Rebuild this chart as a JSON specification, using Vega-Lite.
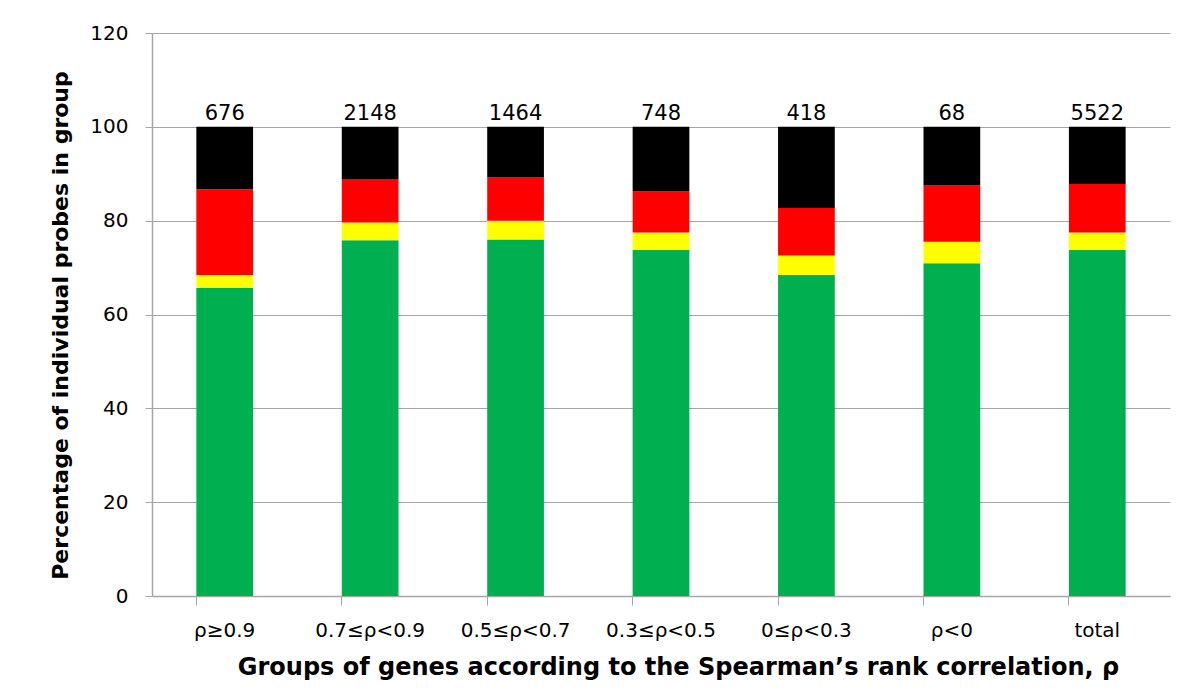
{
  "$schema": "https://vega.github.io/schema/vega-lite/v6.json",
  "width": 1018,
  "height": 563,
  "autosize": {"type": "none"},
  "padding": {"left": 152, "top": 33, "right": 29, "bottom": 100},
  "background": "white",
  "config": {
    "view": {"stroke": null},
    "font": "DejaVu Sans",
    "axis": {"labelFont": "DejaVu Sans", "titleFont": "DejaVu Sans"}
  },
  "datasets": {
    "segs": [
      {"group": "ρ≥0.9", "status": "green", "ord": 1, "value": 65.7},
      {"group": "ρ≥0.9", "status": "yellow", "ord": 2, "value": 2.7},
      {"group": "ρ≥0.9", "status": "red", "ord": 3, "value": 18.3},
      {"group": "ρ≥0.9", "status": "black", "ord": 4, "value": 13.3},
      {"group": "0.7≤ρ<0.9", "status": "green", "ord": 1, "value": 75.8},
      {"group": "0.7≤ρ<0.9", "status": "yellow", "ord": 2, "value": 3.8},
      {"group": "0.7≤ρ<0.9", "status": "red", "ord": 3, "value": 9.3},
      {"group": "0.7≤ρ<0.9", "status": "black", "ord": 4, "value": 11.1},
      {"group": "0.5≤ρ<0.7", "status": "green", "ord": 1, "value": 76.0},
      {"group": "0.5≤ρ<0.7", "status": "yellow", "ord": 2, "value": 4.0},
      {"group": "0.5≤ρ<0.7", "status": "red", "ord": 3, "value": 9.2},
      {"group": "0.5≤ρ<0.7", "status": "black", "ord": 4, "value": 10.8},
      {"group": "0.3≤ρ<0.5", "status": "green", "ord": 1, "value": 73.8},
      {"group": "0.3≤ρ<0.5", "status": "yellow", "ord": 2, "value": 3.7},
      {"group": "0.3≤ρ<0.5", "status": "red", "ord": 3, "value": 8.7},
      {"group": "0.3≤ρ<0.5", "status": "black", "ord": 4, "value": 13.8},
      {"group": "0≤ρ<0.3", "status": "green", "ord": 1, "value": 68.4},
      {"group": "0≤ρ<0.3", "status": "yellow", "ord": 2, "value": 4.2},
      {"group": "0≤ρ<0.3", "status": "red", "ord": 3, "value": 10.1},
      {"group": "0≤ρ<0.3", "status": "black", "ord": 4, "value": 17.3},
      {"group": "ρ<0", "status": "green", "ord": 1, "value": 70.9},
      {"group": "ρ<0", "status": "yellow", "ord": 2, "value": 4.6},
      {"group": "ρ<0", "status": "red", "ord": 3, "value": 12.0},
      {"group": "ρ<0", "status": "black", "ord": 4, "value": 12.5},
      {"group": "total", "status": "green", "ord": 1, "value": 73.8},
      {"group": "total", "status": "yellow", "ord": 2, "value": 3.7},
      {"group": "total", "status": "red", "ord": 3, "value": 10.3},
      {"group": "total", "status": "black", "ord": 4, "value": 12.2}
    ],
    "counts": [
      {"group": "ρ≥0.9", "n": "676", "top": 100},
      {"group": "0.7≤ρ<0.9", "n": "2148", "top": 100},
      {"group": "0.5≤ρ<0.7", "n": "1464", "top": 100},
      {"group": "0.3≤ρ<0.5", "n": "748", "top": 100},
      {"group": "0≤ρ<0.3", "n": "418", "top": 100},
      {"group": "ρ<0", "n": "68", "top": 100},
      {"group": "total", "n": "5522", "top": 100}
    ]
  },
  "encoding": {
    "x": {
      "field": "group",
      "type": "nominal",
      "sort": null,
      "scale": {"paddingInner": 0.61, "paddingOuter": 0.305},
      "axis": {
        "title": "Groups of genes according  to the Spearman’s rank correlation, ρ",
        "titleFontSize": 24,
        "titleFontWeight": "bold",
        "titleColor": "black",
        "titlePadding": 15,
        "titleX": 526,
        "labelAngle": 0,
        "labelFontSize": 20,
        "labelColor": "black",
        "labelPadding": 15,
        "bandPosition": 0,
        "tickSize": 9,
        "tickColor": "#a6a6a6",
        "domainColor": "#a6a6a6",
        "domainWidth": 1.5,
        "grid": false
      }
    }
  },
  "layer": [
    {
      "data": {"name": "segs"},
      "mark": {"type": "bar", "strokeWidth": 0},
      "encoding": {
        "y": {
          "field": "value",
          "type": "quantitative",
          "stack": "zero",
          "scale": {"domain": [0, 120], "nice": false},
          "axis": {
            "title": "Percentage of individual  probes in group",
            "titleFontSize": 22,
            "titleFontWeight": "bold",
            "titleColor": "black",
            "titlePadding": 17,
            "titleY": 292,
            "values": [0, 20, 40, 60, 80, 100, 120],
            "labelFontSize": 20,
            "labelColor": "black",
            "labelPadding": 17,
            "tickSize": 7,
            "tickColor": "#a6a6a6",
            "domainColor": "#a6a6a6",
            "domainWidth": 1.5,
            "grid": true,
            "gridColor": "#a6a6a6",
            "gridWidth": 1.2
          }
        },
        "color": {
          "field": "status",
          "type": "nominal",
          "scale": {
            "domain": ["green", "yellow", "red", "black"],
            "range": ["#00B050", "#FFFF00", "#FF0000", "#000000"]
          },
          "legend": null
        },
        "order": {"field": "ord", "type": "quantitative"}
      }
    },
    {
      "data": {"name": "counts"},
      "mark": {"type": "text", "baseline": "bottom", "dy": -3, "fontSize": 21, "color": "black", "font": "DejaVu Sans"},
      "encoding": {
        "y": {"field": "top", "type": "quantitative"},
        "text": {"field": "n"}
      }
    }
  ]
}
